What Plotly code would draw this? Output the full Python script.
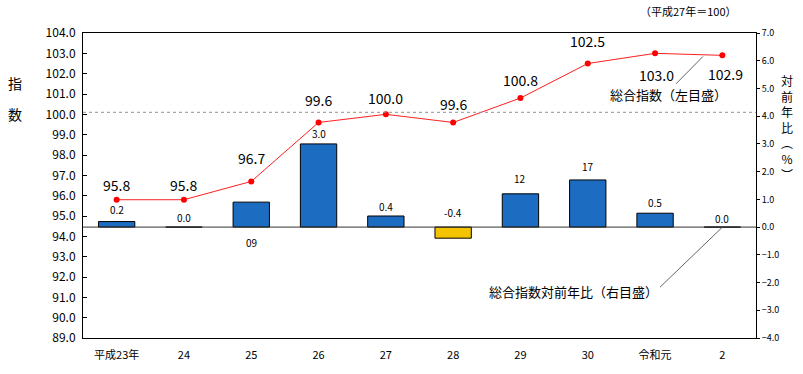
import plotly.graph_objects as go

categories = ["平成23年", "24", "25", "26", "27", "28", "29", "30", "令和元", "2"]
index_values = [95.8, 95.8, 96.7, 99.6, 100.0, 99.6, 100.8, 102.5, 103.0, 102.9]
index_labels = ["95.8", "95.8", "96.7", "99.6", "100.0", "99.6", "100.8", "102.5", "103.0", "102.9"]
yoy_values = [0.2, 0.0, 0.9, 3.0, 0.4, -0.4, 1.2, 1.7, 0.5, 0.0]
yoy_labels = ["0.2", "0.0", "09", "3.0", "0.4", "-0.4", "12", "17", "0.5", "0.0"]
left_ticks = [89 + i for i in range(16)]
right_ticks = [-4 + i for i in range(12)]

# label offsets (pixels) – layout only
index_label_shift = [15, 15, 23, 22, 16, 18, 18, 23, -22, -19]
index_label_xshift = [0, 0, 0, 0, 0, 0, 0, 0, 1, 3]
yoy_label_shift = [12, 10, -15, 10, 10, 15, 15, 13, 11, 9]

JP = "Noto Sans CJK JP"
bar_colors = ["#f5c400" if v < 0 else "#1c6dc2" for v in yoy_values]

fig = go.Figure()
fig.add_trace(go.Bar(
    x=categories, y=yoy_values, yaxis="y2",
    marker=dict(color=bar_colors, line=dict(color="black", width=1)),
    width=0.54, showlegend=False, hoverinfo="skip",
))
fig.add_trace(go.Scatter(
    x=categories, y=index_values, mode="lines+markers",
    line=dict(color="#ff2020", width=1),
    marker=dict(color="#ff0000", size=6),
    showlegend=False, hoverinfo="skip",
))

annotations = []
for i, c in enumerate(categories):
    annotations.append(dict(
        x=i, y=index_values[i], xref="x", yref="y", text=index_labels[i],
        showarrow=False, yshift=index_label_shift[i], xshift=index_label_xshift[i],
        xanchor="center", yanchor="middle",
        font=dict(family=JP, size=14, color="black"),
    ))
    base = max(yoy_values[i], 0) if yoy_labels[i] != "09" else 0
    annotations.append(dict(
        x=i, y=base, xref="x", yref="y2", text=yoy_labels[i],
        showarrow=False, yshift=yoy_label_shift[i],
        xanchor="center", yanchor="middle",
        font=dict(family=JP, size=10, color="black"),
    ))

W, H = 803, 374
PL, PR, PT, PB = 83, 756, 33, 345       # plot area in page pixels
L, T = PL, PT
R, B = W - PR, H - PB
pw, ph = W - L - R, H - T - B

def px(xp, yp):
    # page pixel -> paper coords
    return (xp - PL) / pw, 1 - (yp - PT) / ph

def pix_note(xp, yp, text, size, **kw):
    xx, yy = px(xp, yp)
    d = dict(x=xx, y=yy, xref="paper", yref="paper", text=text, showarrow=False,
             xanchor="center", yanchor="middle",
             font=dict(family=JP, size=size, color="black"))
    d.update(kw)
    return d

annotations += [
    pix_note(739, 11, "（平成27年＝100）", 11, xanchor="right"),
    pix_note(668, 96, "総合指数（左目盛）", 13),
    pix_note(573, 297, "総合指数対前年比（右目盛）", 13),
    pix_note(15, 84, "指", 14),
    pix_note(15, 116, "数", 14),
    pix_note(787, 130, "対<br>前<br>年<br>比<br>︵<br>%<br>︶", 12),
]

x0, y0 = px(676, 85)
x1, y1 = px(703, 57)
x2, y2 = px(660, 293)
x3, y3 = px(722, 232)

shapes = [
    dict(type="line", xref="paper", yref="y", x0=0, x1=1, y0=100.1, y1=100.1,
         line=dict(color="#909090", width=1, dash="dot")),
    dict(type="line", xref="paper", yref="y2", x0=0, x1=1, y0=0, y1=0,
         line=dict(color="#333333", width=1)),
    dict(type="line", xref="paper", yref="paper", x0=x0, y0=y0, x1=x1, y1=y1,
         line=dict(color="#666666", width=1)),
    dict(type="line", xref="paper", yref="paper", x0=x2, y0=y2, x1=x3, y1=y3,
         line=dict(color="#666666", width=1)),
]

fig.update_layout(
    width=W, height=H,
    margin=dict(l=L, r=R, t=T, b=B, pad=0),
    paper_bgcolor="white", plot_bgcolor="white",
    xaxis=dict(
        type="category", categoryorder="array", categoryarray=categories,
        range=[-0.5, len(categories) - 0.5], tickangle=0,
        showline=True, linecolor="black", linewidth=1, mirror=True,
        showgrid=False, ticks="", ticklabelstandoff=7,
        tickfont=dict(family=JP, size=11, color="black"),
        zeroline=False,
    ),
    yaxis=dict(
        range=[89, 104], tickvals=left_ticks, tickformat=".1f",
        showline=True, linecolor="black", linewidth=1, mirror=False,
        showgrid=False, zeroline=False, ticks="inside", ticklen=4, tickcolor="black",
        ticklabelstandoff=4,
        tickfont=dict(family=JP, size=12, color="black"),
    ),
    yaxis2=dict(
        range=[-4, 7], tickvals=right_ticks, tickformat=".1f",
        overlaying="y", side="right",
        showline=True, linecolor="black", linewidth=1,
        showgrid=False, zeroline=False, ticks="outside", ticklen=3, tickcolor="black",
        tickfont=dict(family=JP, size=9, color="black"),
    ),
    annotations=annotations,
    shapes=shapes,
)

fig.write_html(
    "out.html",
    config={"displayModeBar": False},
    post_script="document.body.style.margin='0';document.body.style.overflow='hidden';",
)
